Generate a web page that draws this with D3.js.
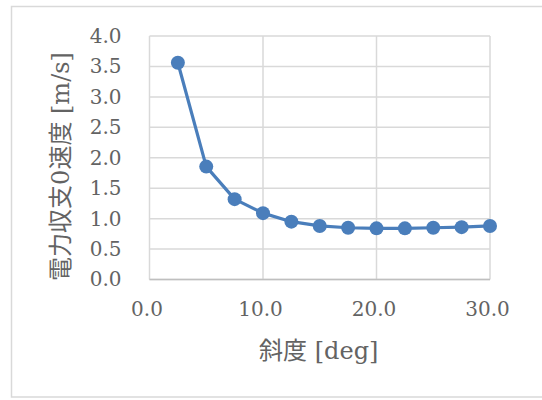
<!DOCTYPE html>
<html>
<head>
<meta charset="utf-8">
<script src="https://cdn.jsdelivr.net/npm/d3@7"></script>
<style>
  html, body { margin: 0; padding: 0; background: #fff; }
  svg { display: block; }
</style>
</head>
<body>
<svg id="chart" width="542" height="400"></svg>
<script>
const xValues = [2.5, 5, 7.5, 10, 12.5, 15, 17.5, 20, 22.5, 25, 27.5, 30];
const yValues = [3.56, 1.855, 1.32, 1.09, 0.95, 0.88, 0.85, 0.84, 0.84, 0.85, 0.86, 0.88];
const xTicks = [0, 10, 20, 30];
const yTicks = [0, 0.5, 1, 1.5, 2, 2.5, 3, 3.5, 4];
const xTitle = "斜度 [deg]";
const yTitle = "電力収支0速度 [m/s]";

const svg = d3.select("#chart");
const W = 542, H = 400;
const plot = { left: 149.5, top: 36, right: 490, bottom: 279.5 };

const fontFamily = "'DejaVu Serif', 'Noto Sans CJK JP', serif";
const textColor = "#636363";
const gridColor = "#d9d9d9";
const lineColor = "#4a7ebb";

// outer border
svg.append("rect")
  .attr("x", 11.5).attr("y", 6.5)
  .attr("width", W + 10).attr("height", 390.5)
  .attr("fill", "#fff").attr("stroke", "#d9d9d9").attr("stroke-width", 1.5);

const x = d3.scaleLinear().domain([0, 30]).range([plot.left, plot.right]);
const y = d3.scaleLinear().domain([0, 4]).range([plot.bottom, plot.top]);

// gridlines
const g = svg.append("g");
g.selectAll("line.h").data(yTicks).join("line")
  .attr("x1", plot.left).attr("x2", plot.right)
  .attr("y1", d => y(d)).attr("y2", d => y(d))
  .attr("stroke", gridColor).attr("stroke-width", 1.5);
g.selectAll("line.v").data(xTicks).join("line")
  .attr("y1", plot.top).attr("y2", plot.bottom)
  .attr("x1", d => x(d)).attr("x2", d => x(d))
  .attr("stroke", gridColor).attr("stroke-width", 1.5);

// axes (labels only)
const yAxis = d3.axisLeft(y).tickValues(yTicks).tickFormat(d3.format(".1f")).tickSize(0).tickPadding(28);
const xAxis = d3.axisBottom(x).tickValues(xTicks).tickFormat(d3.format(".1f")).tickSize(0).tickPadding(22);

const ya = svg.append("g").attr("transform", `translate(${plot.left},0)`).call(yAxis);
const xa = svg.append("g").attr("transform", `translate(0,${plot.bottom})`).call(xAxis);
[ya, xa].forEach(a => {
  a.select(".domain").remove();
  a.selectAll("text")
    .attr("font-family", fontFamily)
    .attr("font-size", 20)
    .attr("fill", textColor);
});
xa.selectAll("text").attr("dx", -3);

// bottom axis line
svg.append("line")
  .attr("x1", plot.left).attr("x2", plot.right)
  .attr("y1", plot.bottom).attr("y2", plot.bottom)
  .attr("stroke", "#bfbfbf").attr("stroke-width", 1.5);

// line + markers
const data = xValues.map((v, i) => ({ x: v, y: yValues[i] }));
svg.append("path")
  .datum(data)
  .attr("fill", "none")
  .attr("stroke", lineColor)
  .attr("stroke-width", 3.2)
  .attr("stroke-linejoin", "round")
  .attr("d", d3.line().x(d => x(d.x)).y(d => y(d.y)));

svg.selectAll("circle.pt").data(data).join("circle")
  .attr("class", "pt")
  .attr("cx", d => x(d.x)).attr("cy", d => y(d.y))
  .attr("r", 7)
  .attr("fill", lineColor);

// titles
svg.append("text")
  .attr("x", (plot.left + plot.right) / 2 - 1).attr("y", 351)
  .attr("text-anchor", "middle").attr("dominant-baseline", "central")
  .attr("font-family", fontFamily).attr("font-size", 24)
  .attr("fill", textColor)
  .text(xTitle);

svg.append("text")
  .attr("transform", `translate(61,166.5) rotate(-90)`)
  .attr("text-anchor", "middle").attr("dominant-baseline", "central")
  .attr("font-family", fontFamily).attr("font-size", 24)
  .attr("fill", textColor)
  .text(yTitle);
</script>
</body>
</html>
